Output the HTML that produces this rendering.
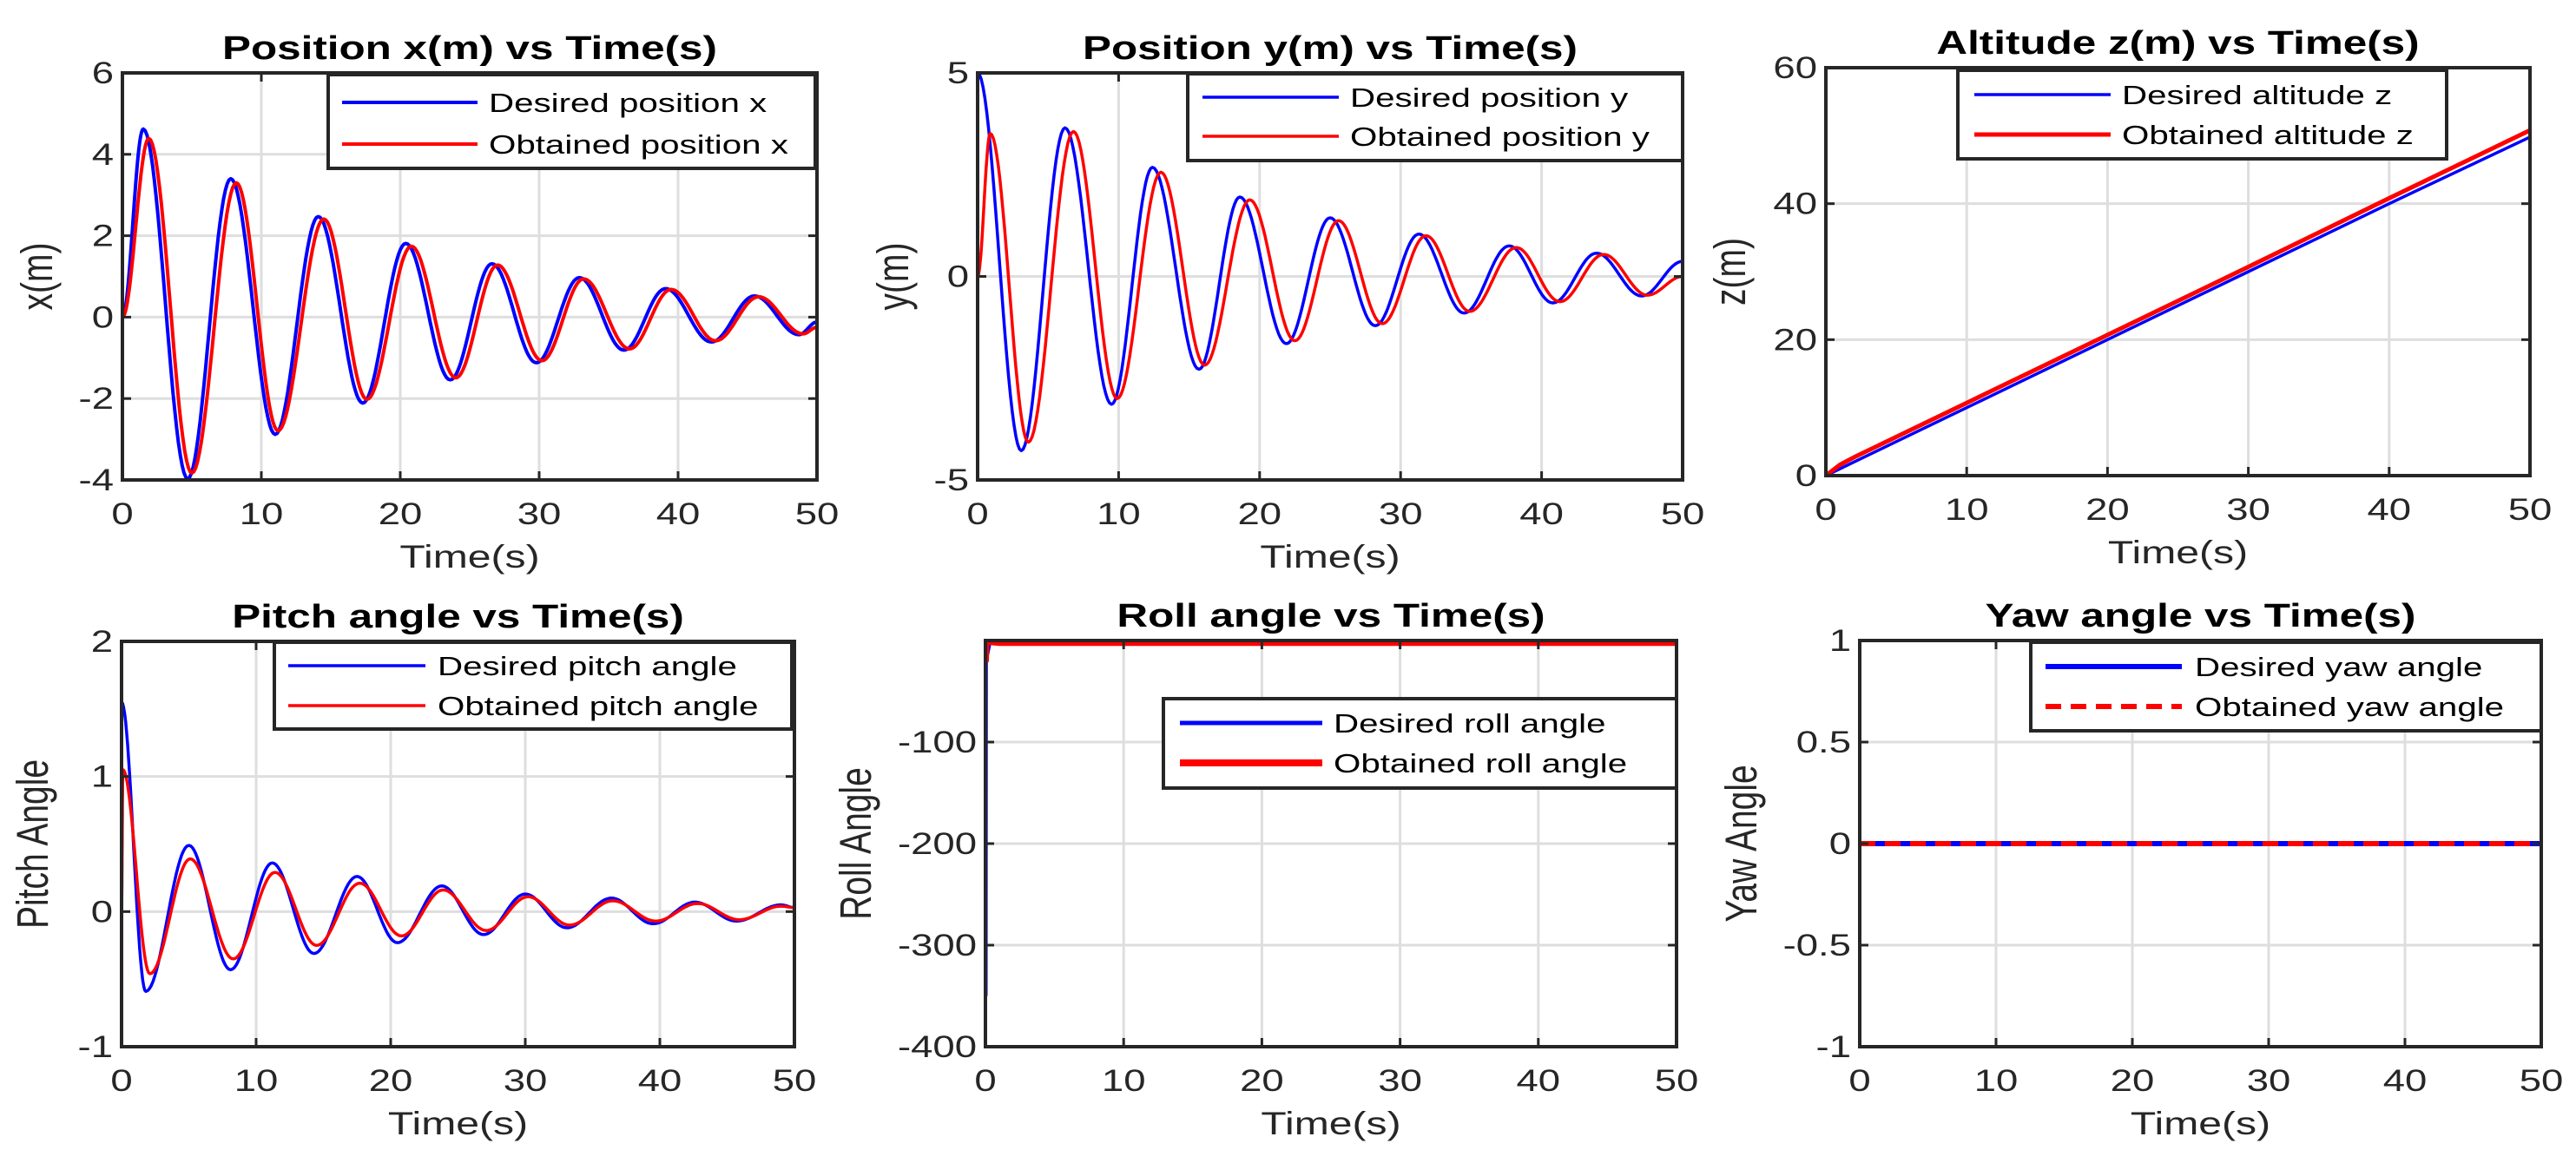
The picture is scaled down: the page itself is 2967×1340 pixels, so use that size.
<!DOCTYPE html>
<html><head><meta charset="utf-8">
<style>
html,body{margin:0;padding:0;background:#fff;}
svg{display:block;}
text{font-family:"Liberation Sans",Arial,sans-serif;fill:#262626;}
</style></head>
<body>
<svg id="fig" xmlns="http://www.w3.org/2000/svg" width="2967" height="1340" viewBox="0 0 2967 1340"></svg>
<script>
// ---- data (extrema / key points) ----
const xDesT = [0,1.5,4.7,7.8,11,14.1,17.3,20.4,23.6,26.6,29.8,32.9,36.1,39.1,42.4,45.5,48.7,50];
const xDesV = [0,4.62,-3.97,3.4,-2.88,2.47,-2.11,1.81,-1.54,1.31,-1.12,0.97,-0.81,0.70,-0.61,0.52,-0.43,-0.12];
const xObtT = [0,1.9,5.0,8.2,11.2,14.5,17.6,20.8,24,27,30.2,33.2,36.5,39.5,42.7,45.8,49,50];
const xObtV = [0,4.39,-3.83,3.3,-2.79,2.41,-2.02,1.74,-1.49,1.28,-1.07,0.94,-0.78,0.68,-0.58,0.5,-0.41,-0.25];

const yDesT = [0,3.1,6.2,9.5,12.4,15.7,18.6,21.9,25,28.2,31.3,34.5,37.7,40.8,43.9,47.1,50];
const yDesV = [5,-4.28,3.65,-3.14,2.68,-2.28,1.95,-1.65,1.44,-1.21,1.04,-0.9,0.75,-0.65,0.57,-0.48,0.37];
const yObtT = [0,0.9,3.6,6.8,9.9,13,16.1,19.3,22.5,25.6,28.7,31.8,34.9,38.2,41.3,44.4,47.5,50];
const yObtV = [0,3.51,-4.07,3.56,-3.0,2.56,-2.18,1.88,-1.58,1.37,-1.16,1.0,-0.86,0.71,-0.62,0.54,-0.46,0.0];

const zT    = [0,1,2,5,10,20,30,40,50];
const zDesV = [0,1,2,5,10,20,30,40,49.8];
const zObtV = [0,1.6,2.7,5.7,10.7,20.7,30.7,40.8,50.8];

const pDesT = [0,1.8,5.0,8.1,11.2,14.3,17.5,20.5,23.8,26.9,30,33.1,36.4,39.5,42.6,45.7,49,50];
const pDesV = [1.55,-0.59,0.49,-0.43,0.36,-0.31,0.26,-0.23,0.19,-0.17,0.13,-0.12,0.10,-0.09,0.07,-0.07,0.05,0.03];
const pObtT = [0,0.1,2.1,5.1,8.3,11.4,14.5,17.7,20.8,23.9,27.1,30.2,33.3,36.5,39.7,42.8,45.9,49,50];
const pObtV = [0,1.05,-0.46,0.39,-0.35,0.29,-0.25,0.21,-0.18,0.16,-0.14,0.11,-0.10,0.08,-0.07,0.06,-0.06,0.04,0.03];

const rDesT = [0,0.02,0.3,1,3,5,50];
const rDesV = [-350,-20,-1,-1,-3,-2,-2];
const rObtT = [0,0.03,0.3,1,5,50];
const rObtV = [-21,-1,-1,-2,-2,-2];

const wT = [0,50];
const wDesV = [0,0];
const wObtV = [0,0];

const xTicks = [0,10,20,30,40,50];
const xTickLabels = ['0','10','20','30','40','50'];

// ---- drawing ----
const NS='http://www.w3.org/2000/svg';
const svg=document.getElementById('fig');
const SX=1.3;
function mk(tag,attrs,parent){const e=document.createElementNS(NS,tag);for(const k in attrs)e.setAttribute(k,attrs[k]);(parent||svg).appendChild(e);return e;}
function txt(str,x,y,size,anchor,weight,rot,parent){
  const g=mk('g',{transform:'translate('+x+','+y+') scale('+SX+',1)'+(rot?' rotate(-90)':'')},parent);
  const t=mk('text',{x:0,y:0,'font-size':size,'text-anchor':anchor,'font-weight':weight||'normal'},g);
  t.textContent=str;return t;}

const panels=[
 {id:'x',L:141,R:941,T:84,B:553,y0:-4,y1:6,yt:[-4,-2,0,2,4,6],title:'Position x(m) vs Time(s)',ylab:'x(m)',ylx:60,
  leg:[378,86,939,194],rows:[118,166],ln:[394,550],tx:563,
  series:[{t:xDesT,v:xDesV,c:'#0000ff',w:4,n:'Desired position x',s:1},{t:xObtT,v:xObtV,c:'#ff0000',w:4,n:'Obtained position x',s:1}]},
 {id:'y',L:1126,R:1938,T:84,B:553,y0:-5,y1:5,yt:[-5,0,5],title:'Position y(m) vs Time(s)',ylab:'y(m)',ylx:1046,
  leg:[1368,85,1938,185],rows:[112,157],ln:[1385,1542],tx:1555,
  series:[{t:yDesT,v:yDesV,c:'#0000ff',w:3.5,n:'Desired position y',s:1},{t:yObtT,v:yObtV,c:'#ff0000',w:3.5,n:'Obtained position y',s:1}]},
 {id:'z',L:2103,R:2914,T:78,B:548,y0:0,y1:60,yt:[0,20,40,60],title:'Altitude z(m) vs Time(s)',ylab:'z(m)',ylx:2010,
  leg:[2255,81,2818,183],rows:[109,155],ln:[2274,2431],tx:2444,
  series:[{t:zT,v:zDesV,c:'#0000ff',w:3.5,n:'Desired altitude z',s:0},{t:zT,v:zObtV,c:'#ff0000',w:5,n:'Obtained altitude z',s:0}]},
 {id:'pitch',L:140,R:915,T:739,B:1206,y0:-1,y1:2,yt:[-1,0,1,2],title:'Pitch angle vs Time(s)',ylab:'Pitch Angle',ylx:55,
  leg:[316,740,912,840],rows:[767,813],ln:[332,490],tx:504,
  series:[{t:pDesT,v:pDesV,c:'#0000ff',w:3.5,n:'Desired pitch angle',s:1},{t:pObtT,v:pObtV,c:'#ff0000',w:3.5,n:'Obtained pitch angle',s:1}]},
 {id:'roll',L:1135,R:1931,T:738,B:1206,y0:-400,y1:0,yt:[-400,-300,-200,-100],title:'Roll angle vs Time(s)',ylab:'Roll Angle',ylx:1003,
  leg:[1340,805,1931,908],rows:[833,879],ln:[1359,1523],tx:1536,
  series:[{t:rDesT,v:rDesV,c:'#0000ff',w:5,n:'Desired roll angle',s:0},{t:rObtT,v:rObtV,c:'#ff0000',w:8,n:'Obtained roll angle',s:0}]},
 {id:'yaw',L:2142,R:2927,T:738,B:1206,y0:-1,y1:1,yt:[-1,-0.5,0,0.5,1],title:'Yaw angle vs Time(s)',ylab:'Yaw Angle',ylx:2023,
  leg:[2339,740,2927,842],rows:[768,814],ln:[2356,2513],tx:2528,
  series:[{t:wT,v:wDesV,c:'#0000ff',w:6,n:'Desired yaw angle',s:0},{t:wT,v:wObtV,c:'#ff0000',w:6,n:'Obtained yaw angle',s:0,dash:'18 11'}]}
];

panels.forEach(function(p){
  const g=mk('g',{});
  
  
  const X=function(t){return p.L+(t/50)*(p.R-p.L);};
  const Y=function(v){return p.B-(v-p.y0)/(p.y1-p.y0)*(p.B-p.T);};
  mk('rect',{x:p.L,y:p.T,width:p.R-p.L,height:p.B-p.T,fill:'#fff'},g);
  xTicks.forEach(function(t){ if(t>0&&t<50){const l=mk('line',{x1:X(t),x2:X(t),y1:p.T,y2:p.B,stroke:'#dedede','stroke-width':3},g);
    }});
  p.yt.forEach(function(v){ if(v>p.y0&&v<p.y1){const l=mk('line',{x1:p.L,x2:p.R,y1:Y(v),y2:Y(v),stroke:'#dedede','stroke-width':3},g);
    }});
  const cid='clip-'+p.id;
  const cp=mk('clipPath',{id:cid},g);mk('rect',{x:p.L,y:p.T,width:p.R-p.L,height:p.B-p.T},cp);
  p.series.forEach(function(s,si){
    let d='';
    for(let i=0;i<s.t.length;i++){
      if(i===0){d+='M'+X(s.t[0]).toFixed(1)+','+Y(s.v[0]).toFixed(1);continue;}
      if(s.s){
        const a=s.t[i-1],b=s.t[i],va=s.v[i-1],vb=s.v[i];
        for(let k=1;k<=24;k++){const u=k/24;const tt=a+(b-a)*u;const vv=va+(vb-va)*(1-Math.cos(Math.PI*u))/2;
          d+=' L'+X(tt).toFixed(1)+','+Y(vv).toFixed(1);}
      } else d+=' L'+X(s.t[i]).toFixed(1)+','+Y(s.v[i]).toFixed(1);
    }
    const path=mk('path',{d:d,fill:'none',stroke:s.c,'stroke-width':s.w,'stroke-linejoin':'round','clip-path':'url(#'+cid+')'},g);
    if(s.dash)path.setAttribute('stroke-dasharray',s.dash);
    
    
  });
  xTicks.forEach(function(t){mk('line',{x1:X(t),x2:X(t),y1:p.B,y2:p.B-10,stroke:'#262626','stroke-width':3},g);mk('line',{x1:X(t),x2:X(t),y1:p.T,y2:p.T+10,stroke:'#262626','stroke-width':3},g);});
  p.yt.forEach(function(v){mk('line',{x1:p.L,x2:p.L+10,y1:Y(v),y2:Y(v),stroke:'#262626','stroke-width':3},g);mk('line',{x1:p.R,x2:p.R-10,y1:Y(v),y2:Y(v),stroke:'#262626','stroke-width':3},g);});
  const box=mk('rect',{x:p.L,y:p.T,width:p.R-p.L,height:p.B-p.T,fill:'none',stroke:'#262626','stroke-width':4},g);
  
  xTicks.forEach(function(t,i){const e=txt(xTickLabels[i],X(t),p.B+51,35,'middle','normal',false,g);
    });
  p.yt.forEach(function(v){const e=txt(String(v),p.L-10,Y(v)+12,35,'end','normal',false,g);
    });
  const xl=txt('Time(s)',(p.L+p.R)/2,p.B+101,37,'middle','normal',false,g);
  
  const yl=txt(p.ylab,p.ylx,(p.T+p.B)/2,39,'middle','normal',true,g);
  
  const ti=txt(p.title,(p.L+p.R)/2,p.T-16,38,'middle','bold',false,g);
  
  ti.style.fill='#000';
  const lg=mk('g',{},g);
  
  mk('rect',{x:p.leg[0],y:p.leg[1],width:p.leg[2]-p.leg[0],height:p.leg[3]-p.leg[1],fill:'#fff',stroke:'#262626','stroke-width':4},lg);
  p.series.forEach(function(s,i){
    const ly=p.rows[i];
    const l=mk('line',{x1:p.ln[0],x2:p.ln[1],y1:ly,y2:ly,stroke:s.c,'stroke-width':s.w},lg);
    if(s.dash)l.setAttribute('stroke-dasharray',s.dash);
    
    const e=txt(s.n,p.tx,ly+11,31,'start','normal',false,lg);
    e.style.fill='#000';
    
  });
});
</script>
</body></html>
